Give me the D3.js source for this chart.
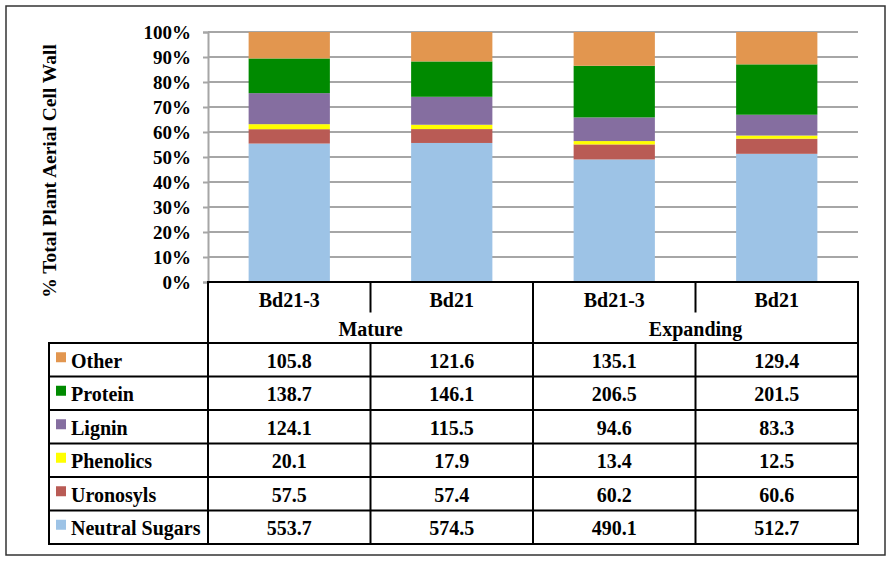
<!DOCTYPE html>
<html>
<head>
<meta charset="utf-8">
<script src="https://cdn.jsdelivr.net/npm/d3@7"></script>
<style>
  body { margin: 0; background: #fff; }
  text { font-family: "Liberation Serif", "Times New Roman", serif; font-weight: bold; fill: #000; }
</style>
</head>
<body>
<div id="vis"></div>
<script>
// chart data (mg/g cell wall), stacked bottom to top
var groups = ['Mature', 'Expanding'];
var lines = ['Bd21-3', 'Bd21', 'Bd21-3', 'Bd21'];
var lineGroup = [0, 0, 1, 1];
var components = ['Neutral Sugars', 'Uronosyls', 'Phenolics', 'Lignin', 'Protein', 'Other'];
var neutralSugars = [553.7, 574.5, 490.1, 512.7];
var uronosyls = [57.5, 57.4, 60.2, 60.6];
var phenolics = [20.1, 17.9, 13.4, 12.5];
var lignin = [124.1, 115.5, 94.6, 83.3];
var protein = [138.7, 146.1, 206.5, 201.5];
var other = [105.8, 121.6, 135.1, 129.4];
var yTicks = [0, 0.1, 0.2, 0.3, 0.4, 0.5, 0.6, 0.7, 0.8, 0.9, 1];

var colors = ['#9dc3e6', '#b95b55', '#ffff00', '#856ea0', '#008a00', '#e2964f'];
var series = [neutralSugars, uronosyls, phenolics, lignin, protein, other];

// build rows for d3.stack
var rows = lines.map(function(l, i) {
  var r = { idx: i };
  components.forEach(function(c, j) { r[c] = series[j][i]; });
  return r;
});

var width = 892, height = 562;
var plot = { left: 208, right: 858, top: 32, bottom: 282 };
var legendLeft = 49;
var headRow = 30.5, groupRow = 30.5, rowH = 33.5;

var svg = d3.select('#vis').append('svg')
  .attr('width', width)
  .attr('height', height);

// outer frame
svg.append('rect')
  .attr('x', 6).attr('y', 6)
  .attr('width', 879).attr('height', 549)
  .attr('fill', 'none')
  .attr('stroke', '#333')
  .attr('stroke-width', 1.5);

var x = d3.scaleBand()
  .domain(d3.range(lines.length))
  .range([plot.left, plot.right])
  .paddingInner(0.5)
  .paddingOuter(0.25);

var xCol = d3.scaleBand()
  .domain(d3.range(lines.length))
  .range([plot.left, plot.right]);

var y = d3.scaleLinear()
  .domain([0, 1])
  .range([plot.bottom, plot.top]);

// gridlines
svg.append('g')
  .selectAll('line')
  .data(yTicks.slice(1))
  .join('line')
  .attr('x1', plot.left).attr('x2', plot.right)
  .attr('y1', function(d) { return y(d); })
  .attr('y2', function(d) { return y(d); })
  .attr('stroke', '#a6a6a6')
  .attr('stroke-width', 2);

// stacked bars, normalised to 100%
var stack = d3.stack()
  .keys(components)
  .offset(d3.stackOffsetExpand);
var layers = stack(rows);

svg.append('g')
  .selectAll('g')
  .data(layers)
  .join('g')
  .attr('fill', function(d, i) { return colors[i]; })
  .selectAll('rect')
  .data(function(d) { return d; })
  .join('rect')
  .attr('x', function(d) { return x(d.data.idx); })
  .attr('width', x.bandwidth())
  .attr('y', function(d) { return y(d[1]); })
  .attr('height', function(d) { return y(d[0]) - y(d[1]); });

// y axis
var yAxis = d3.axisLeft(y)
  .tickValues(yTicks)
  .tickFormat(d3.format('.0%'))
  .tickSize(5)
  .tickPadding(12);

var ya = svg.append('g')
  .attr('transform', 'translate(' + plot.left + ',0)')
  .call(yAxis);
ya.select('.domain').attr('stroke', '#a6a6a6').attr('stroke-width', 2);
ya.selectAll('.tick line').attr('stroke', '#a6a6a6').attr('stroke-width', 2);
ya.selectAll('.tick text')
  .attr('font-family', '"Liberation Serif", serif')
  .attr('font-weight', 'bold')
  .attr('font-size', 19)
  .attr('fill', '#000')
  .attr('dy', '0.36em');

svg.append('text')
  .attr('transform', 'translate(49,171) rotate(-90)')
  .attr('text-anchor', 'middle')
  .attr('dominant-baseline', 'central')
  .attr('font-size', 19.5)
  .text('% Total Plant Aerial Cell Wall');

// data table under the chart
var t = svg.append('g');
var tableTop = plot.bottom;
var headBottom = tableTop + headRow;
var groupBottom = headBottom + groupRow;
var tableBottom = groupBottom + rowH * components.length;

function hline(x1, x2, yy) {
  t.append('line').attr('x1', x1).attr('x2', x2).attr('y1', yy).attr('y2', yy)
    .attr('stroke', '#000').attr('stroke-width', 2);
}
function vline(xx, y1, y2) {
  t.append('line').attr('x1', xx).attr('x2', xx).attr('y1', y1).attr('y2', y2)
    .attr('stroke', '#000').attr('stroke-width', 2);
}

hline(plot.left - 1, plot.right + 1, tableTop);
for (var r = 0; r <= components.length; r++) {
  hline(legendLeft - 1, plot.right + 1, groupBottom + r * rowH);
}
vline(legendLeft, groupBottom, tableBottom);
vline(plot.left, tableTop, tableBottom);
vline(plot.right, tableTop, tableBottom);
vline(xCol(2), tableTop, tableBottom);
vline(xCol(1), tableTop, headBottom);
vline(xCol(3), tableTop, headBottom);
vline(xCol(1), groupBottom, tableBottom);
vline(xCol(3), groupBottom, tableBottom);

// line names
t.selectAll('.line-name')
  .data(lines)
  .join('text')
  .attr('class', 'line-name')
  .attr('x', function(d, i) { return xCol(i) + xCol.bandwidth() / 2; })
  .attr('y', tableTop + headRow / 2 + 3)
  .attr('text-anchor', 'middle')
  .attr('dominant-baseline', 'central')
  .attr('font-size', 20)
  .text(function(d) { return d; });

// group names
t.selectAll('.group-name')
  .data(groups)
  .join('text')
  .attr('class', 'group-name')
  .attr('x', function(d, gi) {
    var idx = lineGroup.map(function(g, i) { return g === gi ? i : -1; }).filter(function(i) { return i >= 0; });
    return (xCol(idx[0]) + xCol(idx[idx.length - 1]) + xCol.bandwidth()) / 2;
  })
  .attr('y', headBottom + groupRow / 2 + 1)
  .attr('text-anchor', 'middle')
  .attr('dominant-baseline', 'central')
  .attr('font-size', 20)
  .text(function(d) { return d; });

// value rows, top row is the top of the stack
var order = d3.range(components.length).reverse();
order.forEach(function(ci, r) {
  var yMid = groupBottom + r * rowH + rowH / 2;
  t.append('rect')
    .attr('x', 56).attr('y', yMid - 7.5)
    .attr('width', 10).attr('height', 10)
    .attr('fill', colors[ci]);
  t.append('text')
    .attr('x', 71).attr('y', yMid + 1)
    .attr('dominant-baseline', 'central')
    .attr('font-size', 20)
    .text(components[ci]);
  t.selectAll('.v' + ci)
    .data(series[ci])
    .join('text')
    .attr('x', function(d, i) { return xCol(i) + xCol.bandwidth() / 2; })
    .attr('y', yMid + 1)
    .attr('text-anchor', 'middle')
    .attr('dominant-baseline', 'central')
    .attr('font-size', 20)
    .text(function(d) { return d3.format('.1f')(d); });
});
</script>
</body>
</html>
